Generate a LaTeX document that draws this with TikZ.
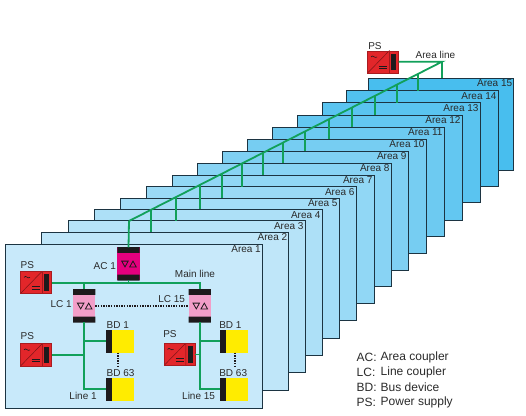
\documentclass[tikz,border=0pt]{standalone}
\usepackage{fontspec}
\setmainfont{Liberation Sans}
\usepackage{xcolor}
\usetikzlibrary{positioning,calc}
\definecolor{panelback}{HTML}{48BEEE}
\definecolor{panelfront}{HTML}{C8E9FA}
\definecolor{panelline}{HTML}{1C3442}
\definecolor{busgreen}{HTML}{12A05A}
\definecolor{psred}{HTML}{E2262A}
\definecolor{acmagenta}{HTML}{E5007E}
\definecolor{lcpink}{HTML}{F29EC8}
\definecolor{bdyellow}{HTML}{FFEC00}
\definecolor{capblack}{HTML}{1E1A1C}
\definecolor{textgrey}{HTML}{2A2A2A}

\begin{document}
\begin{tikzpicture}[
  x=1pt, y=-1pt,
  font=\fontsize{10}{12}\selectfont,
  text=textgrey,
  panel/.style={draw=panelline, line width=1pt, anchor=north west, inner sep=0pt, outer sep=0pt},
  bus/.style={draw=busgreen, line width=1.8pt},
  tag/.style={inner sep=0pt, outer sep=0pt},
  keytext/.style={tag, anchor=west, font=\fontsize{12}{14}\selectfont},
  psu/.style={draw=psred!75!black, line width=0.5pt, fill=psred, inner sep=0pt, outer sep=0pt, minimum width=31pt, minimum height=22.5pt,
    path picture={\begin{scope}[shift={(path picture bounding box.center)}]
      \fill[capblack] (8.3,-8.3) rectangle (13.3,8.3);
      \draw[psred!55!black, line width=0.5pt] (-15.7,11.3) -- (6.3,-11.3) -- (6.3,11.3);
      \draw[capblack, line width=0.6pt] (-12,-5) .. controls (-10,-8) and (-8.5,-3) .. (-6,-5);
      \draw[capblack, line width=0.7pt] (-3.7,4.3) -- (4,4.3) (-3.7,6.7) -- (4,6.7);
    \end{scope}}},
  coupler/.style={inner sep=0pt, outer sep=0pt, minimum width=22.3pt, minimum height=32.7pt, fill=#1,
    path picture={\begin{scope}[shift={(path picture bounding box.center)}]
      \fill[capblack] (-12,-17) rectangle (12,-10.8) (-12,10.8) rectangle (12,17);
      \draw[capblack, line width=0.8pt] (-6.8,-2.6) -- (-0.3,-2.6) -- (-3.5,3.2) -- cycle;
      \draw[capblack, line width=0.8pt] (1.2,3.2) -- (7.7,3.2) -- (4.5,-2.6) -- cycle;
    \end{scope}}},
  device/.style={inner sep=0pt, outer sep=0pt, minimum width=27.7pt, minimum height=22.7pt, fill=bdyellow,
    path picture={\fill[capblack] (path picture bounding box.north west) rectangle ([xshift=6pt]path picture bounding box.south west);}},
  dots/.style={draw=capblack, line width=1.6pt, dash pattern=on 1.4pt off 1.2pt}]

\useasboundingbox (0,0) rectangle (526,415);

\foreach \n/\l/\t/\r/\b in {15/368.3/78/513.7/170.7, 14/346.8/90.5/498/186.7, 13/322/102.7/480/202.7, 12/297.3/115/462/220,
  11/272.5/127/444/236, 10/247.3/139/426/253, 9/222.3/151/408/270, 8/197.3/163/391/286, 7/172/175/374/303, 6/146/186.5/356/320,
  5/120.3/198/339/338, 4/94.3/209.3/322/355, 3/68/220.7/305/372, 2/41.5/232/288.7/390, 1/5/244/262.3/408} {
  \pgfmathsetmacro{\mixpct}{(\n-1)*100/14}
  \pgfmathsetmacro{\panelw}{\r-\l}
  \pgfmathsetmacro{\panelh}{\b-\t}
  \node[panel, fill=panelback!\mixpct!panelfront, minimum width=\panelw pt, minimum height=\panelh pt] (area\n) at (\l,\t) {};
  \node[tag, anchor=east] (areatag\n) at ([shift={(-1.5,5.5)}]area\n.north east) {Area \n};
}

\node[psu] (pstop) at (383,62) {};
\node[tag, anchor=south west] (pstoptag) at (368.3,50) {PS};
\node[tag, anchor=west] (arealinetag) at (415.7,54.7) {Area line};

\coordinate (areacorner) at (442,61.7);
\coordinate (areabend) at (129,221);
\draw[bus] (pstop.east |- areacorner) -- (areacorner) -- (areabend);
\foreach \n/\x in {15/442, 14/418, 13/397, 12/375, 11/352, 10/329, 9/305, 8/283, 7/263, 6/242, 5/222, 4/200, 3/176, 2/151} {
  \coordinate (tap\n) at (intersection cs: first line={(areacorner)--(areabend)}, second line={(\x,0)--(\x,100)});
  \draw[bus] (tap\n) -- (tap\n |- area\n.north);
}

\node[coupler=acmagenta] (ac) at (128.5,263.7) {};
\node[tag, left=1.5pt of ac.west, yshift=-2.5pt] (actag) {AC 1};
\draw[bus] (areabend) -- (ac.north);
\coordinate (mainleft) at (51.7,283.3);
\node[coupler=lcpink] (lc1) at (84.2,305.7) {};
\node[coupler=lcpink] (lc15) at (199.8,305.7) {};
\node[psu] (ps1) at (36,282.4) {};
\node[psu] (ps2) at (36,354.9) {};
\node[psu] (ps3) at (179.5,354.4) {};
\node[device] (bd1) at (119.9,341.3) {};
\node[device, below=25.3pt of bd1] (bd63) {};
\node[device] (bdr1) at (233.9,341.3) {};
\node[device, below=25.3pt of bdr1] (bdr63) {};

\coordinate (mainright) at (lc15.north |- mainleft);
\draw[bus] (ac.south) -- (ac.south |- mainleft);
\draw[bus] (ps1.east |- mainleft) -- (mainright) -- (lc15.north);
\draw[bus] (lc1.north |- mainleft) -- (lc1.north);
\coordinate (line1end) at (lc1.south |- bd63.west);
\coordinate (line15end) at (lc15.south |- bdr63.west);
\draw[bus] (lc1.south) -- (line1end) -- (bd63.west);
\draw[bus] (lc15.south) -- (line15end) -- (bdr63.west);
\draw[bus] (lc1.south |- bd1.west) -- (bd1.west);
\draw[bus] (lc15.south |- bdr1.west) -- (bdr1.west);
\draw[bus] (ps2.east) -- (lc1.south |- ps2.east);
\draw[bus] (ps3.east) -- (lc15.south |- ps3.east);

\draw[dots] (lc1.east) -- (lc15.west);
\coordinate (bd1dots) at (118,366);
\coordinate (bdr1dots) at (235,366);
\draw[dots] (bd1dots |- bd1.south) -- (bd1dots);
\draw[dots] (bdr1dots |- bdr1.south) -- (bdr1dots);

\node[tag, anchor=west] (ps1tag) at (20.7,265) {PS};
\node[tag, anchor=west] (ps2tag) at (20.7,336) {PS};
\node[tag, anchor=west] (ps3tag) at (163.3,333.7) {PS};
\node[tag, anchor=east] (mainlinetag) at (215,273.7) {Main line};
\node[tag, anchor=east] (lc1tag) at (71.7,304) {LC 1};
\node[tag, anchor=east] (lc15tag) at (185,299) {LC 15};
\node[tag, anchor=west] (bd1tag) at (106.7,324.7) {BD 1};
\node[tag, anchor=west] (bd63tag) at (106.7,372.7) {BD 63};
\node[tag, anchor=west] (bdr1tag) at (219.3,324.7) {BD 1};
\node[tag, anchor=west] (bdr63tag) at (219.3,372.7) {BD 63};
\node[tag, anchor=east] (line1tag) at (96.7,395.7) {Line 1};
\node[tag, anchor=east] (line15tag) at (215,395.7) {Line 15};

\foreach \k/\y/\keyname/\keymeaning in {ac/357.3/AC:/Area coupler, lc/372.3/LC:/Line coupler, bd/387/BD:/Bus device, ps/402/PS:/Power supply} {
  \node[keytext] (key\k) at (356.7,\y) {\keyname};
  \node[keytext] (keytext\k) at (380.7,\y) {\keymeaning};
}
\end{tikzpicture}
\end{document}
